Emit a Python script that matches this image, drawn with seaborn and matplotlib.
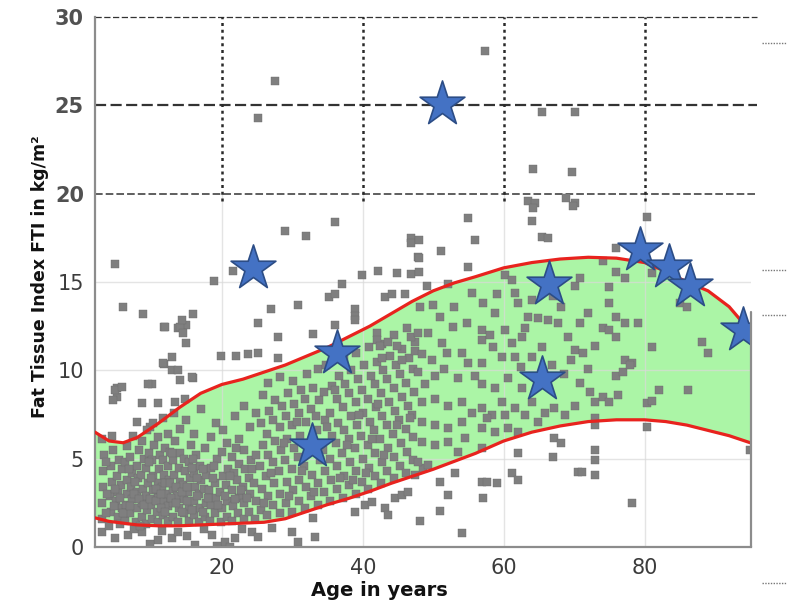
import matplotlib
matplotlib.use("Agg")
import matplotlib.pyplot as plt
from matplotlib.lines import Line2D
import numpy as np
import pandas as pd
import seaborn as sns

# ---------------- data ----------------
# reference band (age, lower / upper FTI)
curve_age = [2, 4, 6, 8, 11, 14, 17, 20, 23, 26, 29, 32, 35, 38, 41, 44, 47, 50, 53, 56,
             60, 64, 68, 72, 76, 80, 83, 86, 89, 92, 95]
upper_fti = [6.5, 6.0, 5.9, 6.2, 7.0, 7.9, 8.7, 9.2, 9.5, 9.9, 10.3, 10.8, 11.3, 11.9, 12.5,
             13.2, 13.9, 14.5, 14.95, 15.3, 15.8, 16.1, 16.3, 16.4, 16.35, 16.1, 15.6, 15.0,
             14.5, 13.6, 12.2]
lower_fti = [1.65, 1.45, 1.35, 1.25, 1.2, 1.2, 1.25, 1.3, 1.35, 1.4, 1.6, 2.0, 2.4, 2.75,
             3.15, 3.6, 4.0, 4.4, 4.85, 5.3, 6.0, 6.5, 6.85, 7.1, 7.2, 7.2, 7.1, 6.9, 6.6,
             6.3, 5.9]

# highlighted patients (stars)
star_age = [51.3, 24.4, 36.3, 32.8, 66.4, 65.5, 79.4, 83.4, 86.4, 93.9]
star_fti = [25.1, 15.8, 11.0, 5.7, 14.9, 9.5, 16.8, 15.85, 14.8, 12.3]

# measured population (grey squares), grouped by region
pts_above = [
    (4.8, 16.0), (18.9, 15.05), (6.0, 13.6), (8.8, 13.2), (15.9, 13.2), (11.8, 12.45),
    (13.8, 12.4), (14.9, 12.55), (14.9, 11.55), (12.9, 10.75), (11.8, 10.35), (19.9, 10.8),
    (22.0, 10.8), (23.7, 10.9), (21.6, 15.6), (11.9, 12.45), (14.1, 12.45), (14.5, 12.1),
    (14.3, 12.85), (11.6, 10.4), (12.9, 10.0), (14.1, 9.45), (15.9, 9.55), (5.1, 9.0),
    (5.1, 8.5), (4.6, 8.3), (10.1, 9.2), (4.8, 8.9), (5.8, 9.05), (8.0, 7.1), (9.8, 6.8),
    (9.5, 9.2), (8.7, 8.15), (10.9, 8.15), (13.3, 8.2), (14.8, 8.4), (15.7, 9.6),
    (13.8, 10.0), (36.0, 18.4), (29.0, 17.9), (31.9, 17.6), (46.8, 17.5), (46.8, 17.2),
    (47.8, 16.4), (39.9, 15.4), (42.1, 15.6), (44.9, 15.5), (46.9, 15.45), (37.0, 14.9),
    (35.2, 14.15), (36.0, 14.3), (43.1, 14.15), (44.1, 14.3), (46.0, 14.3), (27.0, 13.5),
    (30.8, 13.7), (38.9, 13.5), (38.9, 13.1), (38.9, 12.85), (25.1, 12.7), (28.0, 11.9),
    (32.9, 12.05), (36.0, 12.55), (25.1, 11.0), (28.0, 10.7), (54.9, 18.6), (55.9, 17.4),
    (51.1, 16.75), (48.0, 17.4), (48.0, 16.35), (48.0, 15.55), (54.9, 15.85), (49.1, 14.8),
    (52.1, 14.9), (64.0, 18.45), (65.5, 17.55), (66.3, 17.5), (63.4, 19.6), (64.4, 19.5),
    (68.9, 19.75), (70.1, 19.5), (80.3, 18.7), (76.0, 16.9), (27.5, 26.4), (25.1, 24.3),
    (57.3, 28.1), (65.4, 24.6), (70.1, 24.6), (64.1, 21.4), (69.7, 21.2), (69.9, 19.3),
    (64.1, 19.2),
]
pts_below = [
    (4.8, 0.5), (6.7, 0.7), (8.7, 0.85), (10.9, 0.4), (12.9, 0.5), (13.8, 0.85), (16.2, 0.1),
    (18.6, 0.7), (20.4, 0.3), (21.9, 0.5), (24.3, 0.85), (3.0, 0.85), (19.3, 0.05),
    (21.2, 0.0), (38.9, 2.0), (40.3, 2.4), (41.3, 2.55), (43.1, 2.2), (44.6, 2.8),
    (45.5, 2.95), (46.4, 3.1), (43.6, 1.8), (32.9, 1.65), (29.9, 0.85), (33.2, 0.57),
    (30.8, 0.3), (27.1, 1.1), (25.1, 0.57), (67.2, 6.15), (68.2, 5.9), (67.0, 5.1),
    (62.0, 5.3), (61.2, 4.2), (62.0, 3.8), (70.5, 4.25), (56.9, 3.7), (57.7, 3.7),
    (59.0, 3.6), (50.9, 3.7), (53.1, 4.2), (52.1, 2.95), (57.0, 2.8), (50.9, 2.05),
    (48.1, 1.5), (54.1, 0.8), (48.5, 4.5), (47.4, 4.1), (72.9, 5.5), (72.9, 4.9),
    (72.9, 4.1), (71.1, 4.25), (78.2, 2.5), (95.0, 5.5), (7.5, 1.0), (11.5, 0.9),
    (15.0, 0.6), (17.5, 1.0), (22.8, 1.0), (9.8, 0.15),
]
pts_young = [
    (3.0, 1.6), (3.0, 2.5), (3.2, 3.4), (3.1, 4.3), (3.3, 5.2), (3.0, 6.1), (4.0, 1.2),
    (4.2, 2.0), (4.1, 2.9), (4.4, 3.7), (4.3, 4.6), (4.5, 5.5), (4.4, 6.3), (5.2, 1.7),
    (5.0, 2.6), (5.3, 3.1), (5.1, 4.0), (5.4, 4.9), (5.6, 1.3), (5.8, 2.2), (5.7, 3.5),
    (5.9, 4.4), (6.3, 1.5), (6.4, 2.4), (6.5, 3.0), (6.6, 3.8), (6.2, 4.8), (6.5, 5.7),
    (7.0, 1.9), (7.2, 2.7), (7.1, 3.4), (7.3, 4.2), (7.0, 5.1), (7.4, 6.3), (7.8, 1.4),
    (7.9, 2.2), (8.0, 3.1), (8.1, 3.9), (7.9, 4.6), (8.2, 5.5), (8.6, 1.7), (8.7, 2.5),
    (8.8, 3.3), (8.5, 4.1), (8.9, 5.0), (8.7, 6.0), (9.3, 1.3), (9.4, 2.1), (9.2, 2.9),
    (9.5, 3.6), (9.3, 4.5), (9.6, 5.3), (9.4, 6.6), (10.1, 1.6), (10.0, 2.4), (10.2, 3.2),
    (10.3, 4.0), (10.1, 4.9), (10.4, 5.8), (10.3, 7.0), (10.9, 1.4), (10.8, 2.0),
    (11.0, 2.8), (10.9, 3.6), (11.1, 4.4), (11.2, 5.2), (11.0, 6.2), (11.6, 1.8),
    (11.7, 2.6), (11.5, 3.4), (11.8, 4.1), (11.6, 4.9), (11.9, 5.6), (11.7, 7.3),
    (12.3, 1.5), (12.4, 2.3), (12.2, 3.0), (12.5, 3.8), (12.3, 4.6), (12.6, 5.4),
    (12.4, 6.4), (13.0, 1.7), (13.1, 2.5), (13.0, 3.3), (13.2, 4.1), (13.1, 4.9),
    (13.3, 6.0), (13.2, 7.6), (13.8, 1.4), (13.9, 2.2), (13.7, 2.9), (14.0, 3.7),
    (13.9, 4.5), (14.1, 5.3), (14.0, 6.7), (14.6, 1.9), (14.7, 2.7), (14.5, 3.5),
    (14.8, 4.3), (14.6, 5.0), (14.9, 7.2), (15.3, 1.5), (15.4, 2.3), (15.2, 3.1),
    (15.5, 3.9), (15.4, 4.8), (15.6, 5.8), (16.0, 1.8), (16.1, 2.6), (16.2, 3.4),
    (16.0, 4.2), (16.3, 5.2), (16.1, 6.4), (16.8, 1.4), (16.9, 2.2), (16.7, 3.0),
    (17.0, 3.8), (16.9, 4.6), (17.1, 7.8), (17.6, 1.7), (17.7, 2.5), (17.5, 3.3),
    (17.8, 4.1), (17.6, 5.6), (18.3, 1.5), (18.4, 2.4), (18.2, 3.2), (18.5, 4.5),
    (18.4, 6.2), (19.1, 1.9), (19.2, 2.8), (19.0, 3.6), (19.3, 5.0), (19.2, 7.0),
    (19.9, 1.4), (20.0, 2.2), (19.8, 3.1), (20.1, 4.0), (20.0, 5.4), (20.2, 6.6),
    (20.7, 1.7), (20.8, 2.6), (20.6, 3.5), (20.9, 4.4), (20.7, 5.9), (21.5, 1.5),
    (21.6, 2.3), (21.4, 3.2), (21.7, 4.2), (21.5, 5.1), (21.8, 7.4), (22.3, 1.9),
    (22.4, 2.8), (22.2, 3.8), (22.5, 4.7), (22.4, 6.1), (23.1, 1.6), (23.2, 2.5),
    (23.0, 3.4), (23.3, 4.4), (23.1, 5.5), (23.2, 8.0), (23.9, 2.0), (24.0, 3.0),
    (23.8, 3.9), (24.1, 4.9), (24.0, 6.8), (24.7, 1.6), (24.8, 2.6), (24.6, 3.6),
    (24.9, 5.2), (24.8, 7.6),
    # second pass over the densest patch
    (3.6, 1.9), (3.7, 3.0), (4.7, 2.3), (4.9, 3.3), (5.5, 2.8), (6.0, 1.9), (6.9, 2.3),
    (7.6, 3.0), (7.7, 3.7), (8.3, 2.7), (8.4, 1.2), (9.0, 2.4), (9.8, 2.7), (9.9, 3.9),
    (10.6, 2.6), (10.6, 3.3), (11.3, 2.2), (11.4, 3.0), (12.0, 2.0), (12.0, 3.6),
    (12.8, 2.8), (12.7, 3.6), (13.5, 2.5), (13.5, 3.4), (14.3, 2.0), (14.3, 3.1),
    (15.0, 2.6), (15.0, 3.4), (15.8, 2.1), (15.8, 4.5), (16.5, 2.9), (16.5, 3.9),
    (17.3, 2.0), (17.3, 4.4), (18.0, 2.8), (18.8, 3.9), (19.5, 2.4), (20.4, 2.9),
    (21.1, 4.0), (21.9, 2.7), (22.7, 3.2), (23.6, 2.8), (24.3, 4.4), (6.8, 4.4),
    (9.7, 4.8), (12.9, 5.3), (15.9, 5.0), (18.9, 4.6), (22.0, 5.6), (3.5, 4.8),
]
pts_mid = [
    (25.5, 2.1), (25.7, 3.3), (25.4, 4.6), (25.8, 5.8), (25.6, 7.0), (25.9, 8.6), (26.4, 1.8),
    (26.5, 2.9), (26.3, 4.0), (26.6, 5.2), (26.4, 6.4), (26.7, 7.7), (26.5, 9.3), (27.3, 2.4),
    (27.4, 3.6), (27.2, 4.8), (27.5, 6.0), (27.3, 7.2), (27.6, 8.3), (28.2, 1.9), (28.3, 3.0),
    (28.1, 4.3), (28.4, 5.5), (28.2, 6.8), (28.5, 8.0), (28.3, 9.6), (29.1, 2.5), (29.2, 3.7),
    (29.0, 4.9), (29.3, 6.1), (29.1, 7.4), (29.4, 8.7), (30.0, 2.0), (30.1, 3.2), (29.9, 4.4),
    (30.2, 5.6), (30.0, 6.9), (30.3, 8.1), (30.1, 9.4), (30.9, 2.6), (31.0, 3.8), (30.8, 5.1),
    (31.1, 6.3), (30.9, 7.6), (31.2, 8.9), (31.8, 2.2), (31.9, 3.4), (31.7, 4.6), (32.0, 7.1),
    (31.8, 8.4), (32.1, 9.8), (32.7, 2.9), (32.8, 4.1), (32.6, 7.8), (32.9, 9.0), (33.6, 2.4),
    (33.7, 3.6), (33.5, 6.6), (33.8, 8.3), (33.6, 10.1), (34.5, 3.1), (34.6, 4.3), (34.4, 5.5),
    (34.7, 7.2), (34.5, 8.8), (34.8, 10.3), (35.4, 2.6), (35.5, 3.8), (35.3, 5.0), (35.6, 6.3),
    (35.4, 7.6), (35.7, 9.1), (36.3, 3.3), (36.4, 4.6), (36.2, 5.9), (36.5, 7.0), (36.3, 8.4),
    (36.6, 9.7), (37.2, 2.8), (37.3, 4.0), (37.1, 5.3), (37.4, 6.6), (37.2, 7.9), (37.5, 9.2),
    (37.3, 10.6), (38.1, 3.5), (38.2, 4.8), (38.0, 6.1), (38.3, 7.4), (38.1, 8.7), (38.4, 10.0),
    (39.0, 3.0), (39.1, 4.3), (38.9, 5.6), (39.2, 6.9), (39.0, 8.2), (39.3, 9.5), (39.1, 11.0),
    (39.9, 3.7), (40.0, 5.0), (39.8, 6.3), (40.1, 7.6), (39.9, 8.9), (40.2, 10.3), (40.8, 3.3),
    (40.9, 4.5), (40.7, 5.8), (41.0, 7.1), (40.8, 8.4), (41.1, 9.7), (40.9, 11.3), (41.7, 4.0),
    (41.8, 5.3), (41.6, 6.6), (41.9, 7.9), (41.7, 9.2), (42.0, 10.5), (42.6, 3.6), (42.7, 4.8),
    (42.5, 6.1), (42.8, 7.4), (42.6, 8.7), (42.9, 10.0), (42.7, 11.5), (43.5, 4.3), (43.6, 5.6),
    (43.4, 6.9), (43.7, 8.2), (43.5, 9.5), (43.8, 10.8), (44.4, 3.9), (44.5, 5.1), (44.3, 6.4),
    (44.6, 7.7), (44.4, 9.0), (44.7, 10.3), (44.5, 12.0), (45.3, 4.6), (45.4, 5.9), (45.2, 7.2),
    (45.5, 8.5), (45.3, 9.8), (45.6, 11.2), (46.2, 4.2), (46.3, 5.4), (46.1, 6.7), (46.4, 8.0),
    (46.2, 9.3), (46.5, 10.7), (46.3, 12.4), (47.1, 4.9), (47.2, 6.2), (47.0, 7.5), (47.3, 8.8),
    (47.1, 10.1), (47.4, 11.6), (42.0, 12.1), (42.0, 11.7), (42.4, 11.4), (43.6, 11.6),
    (44.9, 11.4), (46.9, 11.9), (47.4, 11.1), (42.7, 10.7), (45.5, 10.6),
    (26.0, 2.5), (27.0, 4.2), (28.8, 5.9), (29.6, 2.9), (31.4, 4.3), (32.3, 5.6),
    (33.1, 3.1), (34.0, 4.9), (34.9, 6.8), (36.8, 3.9), (37.7, 5.8), (38.6, 3.8),
    (40.4, 4.2), (41.3, 6.1), (43.0, 5.2), (44.9, 6.9), (46.7, 7.3), (30.6, 7.1),
    (33.3, 7.4), (36.0, 8.9), (39.5, 7.5), (42.2, 8.1),
]
pts_late = [
    (60.2, 15.4), (61.2, 15.1), (59.0, 14.3), (57.0, 13.8), (61.6, 14.4), (62.0, 13.8),
    (64.0, 14.0), (68.2, 13.6), (70.1, 14.8), (48.1, 13.6), (49.9, 13.7), (50.9, 13.0),
    (52.8, 12.45), (54.8, 12.7), (56.9, 12.3), (58.7, 13.25), (60.2, 12.3), (47.8, 12.1),
    (49.2, 12.1), (51.2, 11.55), (51.9, 11.0), (54.1, 11.0), (56.9, 11.7), (58.5, 11.3),
    (61.2, 11.55), (62.6, 11.9), (63.4, 13.0), (64.8, 12.95), (66.3, 12.85), (67.7, 12.7),
    (69.1, 11.9), (70.1, 11.15), (65.4, 11.3), (64.0, 10.75), (61.6, 10.75), (59.7, 10.75),
    (56.9, 10.4), (54.9, 10.4), (49.8, 10.6), (48.4, 10.9), (47.8, 9.9), (50.2, 9.7),
    (51.6, 10.1), (53.5, 9.55), (55.9, 9.7), (56.9, 9.2), (58.7, 9.0), (60.6, 9.55),
    (62.6, 9.0), (64.0, 8.2), (65.8, 7.6), (67.2, 7.85), (68.7, 7.5), (70.1, 8.0),
    (48.4, 8.2), (50.2, 8.4), (52.1, 8.0), (54.1, 8.2), (55.5, 7.6), (56.9, 7.85),
    (58.3, 7.5), (60.2, 7.5), (61.6, 7.85), (63.0, 7.5), (64.8, 7.1), (48.4, 7.1),
    (50.2, 6.9), (52.1, 6.75), (54.1, 7.1), (56.9, 6.75), (58.7, 6.5), (60.6, 6.75),
    (62.0, 6.5), (48.4, 5.95), (50.2, 5.8), (52.1, 5.95), (54.5, 6.15), (56.9, 5.6),
    (47.8, 4.8), (49.2, 4.65), (53.5, 5.4), (57.7, 7.3), (59.7, 8.2), (48.8, 9.2),
    (53.0, 13.6), (55.5, 14.4), (58.0, 12.0), (63.0, 12.4), (66.8, 10.3), (68.5, 9.8),
    (69.5, 10.6), (67.0, 14.2), (62.5, 10.2),
]
pts_old = [
    (74.1, 16.2), (76.0, 15.55), (77.2, 15.2), (75.0, 14.7), (75.0, 13.8), (71.9, 13.25),
    (76.0, 13.0), (77.2, 12.7), (79.0, 12.7), (74.1, 12.4), (75.0, 12.3), (76.0, 11.9),
    (72.9, 11.4), (71.2, 11.0), (81.0, 11.3), (88.1, 11.6), (89.0, 11.0), (77.2, 10.6),
    (78.2, 10.4), (85.0, 13.8), (86.0, 13.6), (81.0, 15.5), (70.8, 15.2), (70.8, 12.7),
    (71.9, 10.1), (70.8, 9.3), (72.2, 8.75), (72.9, 8.2), (74.1, 8.5), (75.0, 8.2),
    (76.2, 8.6), (76.0, 9.7), (76.9, 9.9), (77.9, 10.3), (82.1, 8.9), (86.1, 8.9),
    (80.3, 8.15), (81.0, 8.25), (72.9, 7.3), (72.9, 6.9), (80.3, 6.8),
]

x_ticks = [20, 40, 60, 80]
y_ticks = [0, 5, 10, 15, 20, 25, 30]

# ---------------- figure ----------------
sns.set_theme(style="white")
plt.rcParams["font.family"] = ["DejaVu Sans"]

all_pts = pts_above + pts_below + pts_young + pts_mid + pts_late + pts_old
df = pd.DataFrame(all_pts, columns=["age", "fti"])
band = pd.DataFrame({"age": curve_age, "upper": upper_fti, "lower": lower_fti})
stars = pd.DataFrame({"age": star_age, "fti": star_fti})

fig = plt.figure(figsize=(7.92, 6.05), dpi=100)
ax = fig.add_axes([95 / 792, 1 - 547 / 605, (751 - 95) / 792, (547 - 17) / 605])
XMAX = 95.1
ax.set_xlim(2, XMAX)
ax.set_ylim(0, 30)

# green reference band
ax.fill_between(band["age"], band["lower"], band["upper"], color="#abf5a6", lw=0, zorder=1)

# light grid in lower part
for y in [5, 10, 15]:
    ax.plot([2, XMAX], [y, y], color="#d9d9d9", lw=1, alpha=0.7, zorder=1.5)
for x in x_ticks:
    ax.plot([x, x], [0, 20], color="#d9d9d9", lw=1, alpha=0.7, zorder=1.5)

# dashed dark grid in upper part
for y, lw in [(20, 1.1), (25, 1.6), (30, 0.9)]:
    ax.plot([2, 96], [y, y], color="#333333", lw=lw, ls=(0, (5, 2)), zorder=1.6, clip_on=False)
for x in x_ticks:
    ax.plot([x, x], [19.6, 30], color="#2a2a2a", lw=1.8, ls=(0, (1.2, 1.5)), zorder=1.6)

# population
sns.scatterplot(data=df, x="age", y="fti", marker="s", s=30, color="#7f7f7f",
                edgecolor="#6c6c6c", linewidth=0.3, ax=ax, zorder=2, legend=False)

# reference curves
sns.lineplot(data=band, x="age", y="upper", color="#e8231e", lw=2.3, ax=ax, zorder=3,
             sort=False, estimator=None)
sns.lineplot(data=band, x="age", y="lower", color="#e8231e", lw=2.3, ax=ax, zorder=3,
             sort=False, estimator=None)

# stars
sns.scatterplot(data=stars, x="age", y="fti", marker="*", s=1150, color="#4472c4",
                edgecolor="#2c4d86", linewidth=1.2, ax=ax, zorder=4, legend=False)

# spines
for s in ["top", "right"]:
    ax.spines[s].set_visible(False)
for s in ["left", "bottom"]:
    ax.spines[s].set_color("#8c8c8c")
    ax.spines[s].set_linewidth(1.6)
ax.plot([XMAX, XMAX], [0, 13.3], color="#8c8c8c", lw=1.6, zorder=5, clip_on=False)

ax.set_xticks(x_ticks)
ax.set_yticks(y_ticks)
ax.tick_params(axis="both", labelsize=15, colors="#3c3c3c", length=3, direction="in", pad=8)
for lbl in ax.get_yticklabels():
    if lbl.get_text() in ("20", "25", "30"):
        lbl.set_fontweight("bold")
        lbl.set_color("#333333")
        lbl.set_alpha(0.85)

ax.set_xlabel("Age in years", fontsize=14, fontweight="bold", color="#111111")
ax.xaxis.set_label_coords(0.434, -0.064)
ax.set_ylabel("Fat Tissue Index FTI in kg/m²", fontsize=12.5, fontweight="bold", color="#111111")
ax.yaxis.set_label_coords(-0.07, 0.51)

# small dotted marks at right border of the scan
for ypx in [43, 270, 315, 583]:
    fig.add_artist(Line2D([762 / 792, 786 / 792], [1 - ypx / 605] * 2, transform=fig.transFigure,
                          color="#777777", lw=1, ls=(0, (1, 1))))

fig.savefig("out.png", dpi=100)
